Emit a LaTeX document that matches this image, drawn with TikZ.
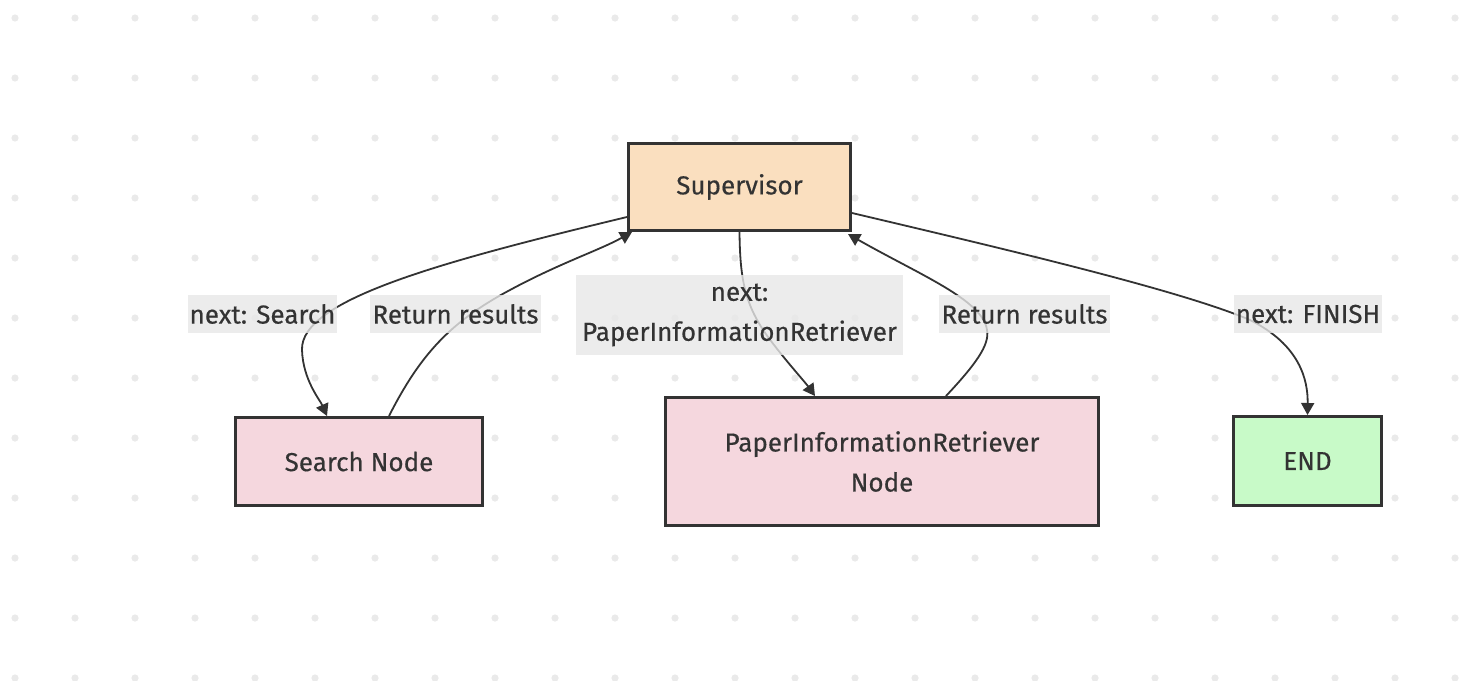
\documentclass[tikz,border=0pt]{standalone}
\usepackage{fontspec}
\setmainfont{Fira Sans}[FakeBold=0.4]
\usetikzlibrary{arrows.meta}
\definecolor{ink}{HTML}{333333}
\definecolor{dotc}{HTML}{EAEAEA}
\definecolor{lblbg}{HTML}{E8E8E8}
\definecolor{supfill}{HTML}{FADFBF}
\definecolor{pinkfill}{HTML}{F5D7DE}
\definecolor{greenfill}{HTML}{C8FAC8}
\begin{document}
\begin{tikzpicture}[x=1pt,y=-1pt,
  box/.style={draw=ink, line width=3pt, text=ink, font=\fontsize{26}{40}\selectfont, align=center, inner sep=0pt},
  lbl/.style={fill=lblbg, fill opacity=0.8, text opacity=1, text=ink, font=\fontsize{26}{40}\selectfont, align=center, inner xsep=2pt, inner ysep=0pt, minimum height=38pt},
  edge/.style={draw=ink, line width=1.8pt, -{Triangle[length=12pt,width=13pt]}}]
\useasboundingbox (0,0) rectangle (1480,680);
\fill[white] (0,0) rectangle (1480,680);
\begin{scope}
\clip (0,0) rectangle (1480,680);
\foreach \i in {0,...,24} {
  \foreach \j in {0,...,11} {
    \fill[dotc] (15+60*\i, 18+60*\j) circle (3.6pt);
  }
}
\end{scope}

\node[box, fill=supfill, minimum width=222pt, minimum height=87pt] (sup) at (739.5,187) {Supervisor};
\node[box, fill=pinkfill, minimum width=247pt, minimum height=88pt] (search) at (359,461.5) {Search Node};
\node[box, fill=pinkfill, minimum width=433pt, minimum height=128pt] (pir) at (882,461.5) {PaperInformationRetriever\\Node};
\node[box, fill=greenfill, minimum width=148pt, minimum height=89pt] (end) at (1307.5,461) {END};

\coordinate (e1s) at ([yshift=-30pt]sup.west);
\coordinate (e1e) at ([xshift=-32pt]search.north);
\coordinate (e2s) at ([xshift=30pt]search.north);
\coordinate (e2e) at ([xshift=5pt]sup.south west);
\coordinate (e4s) at ([xshift=64pt]pir.north);
\coordinate (e4e) at ([xshift=-4pt,yshift=-2pt]sup.south east);
\coordinate (e3e) at ([xshift=-67pt]pir.north);
\coordinate (e5s) at ([yshift=-26pt]sup.east);

\draw[edge] (e1s) .. controls (440,262) and (300,300) .. (302,350) .. controls (303,380) and (320,400) .. (e1e);
\draw[edge] (e2s) .. controls (420,355) and (450,322) .. (510,290) .. controls (560,263) and (600,250) .. (e2e);
\draw[edge] (sup.south) .. controls (740,280) and (745,305) .. (768,337) .. controls (785,360) and (805,382) .. (e3e);
\draw[edge] (e4s) .. controls (975,365) and (990,345) .. (987,330) .. controls (983,300) and (920,275) .. (e4e);
\draw[edge] (e5s) .. controls (1000,248) and (1180,290) .. (1250,320) .. controls (1300,345) and (1308,380) .. (end.north);

\node[lbl] (l1) at (262.5,314) {next: Search};
\node[lbl] (l2) at (455.5,314) {Return results};
\node[lbl, minimum height=80pt, inner xsep=6pt] (l3) at (739.5,315) {next:\\PaperInformationRetriever};
\node[lbl] (l4) at (1024.5,314) {Return results};
\node[lbl] (l5) at (1308,314) {next: FINISH};
\end{tikzpicture}
\end{document}
